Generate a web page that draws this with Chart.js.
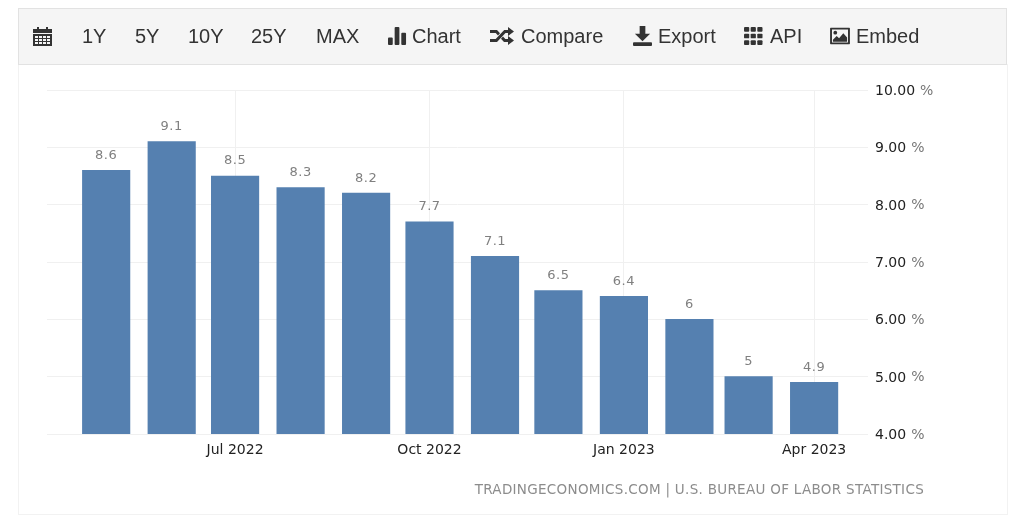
<!DOCTYPE html>
<html>
<head>
<meta charset="utf-8">
<title>United States Inflation Rate</title>
<script src="https://cdn.jsdelivr.net/npm/chart.js@4"></script>
<style>
  html, body { margin: 0; padding: 0; background: #fff; overflow: hidden; }
  #page { position: relative; width: 1024px; height: 522px; }
  #panel { position: absolute; left: 18px; top: 64px; width: 988px; height: 450px; border: 1px solid #f2f2f2; border-top: 0; }
  #toolbar { position: absolute; left: 18px; top: 8px; width: 987px; height: 55px; background: #f5f5f5; border: 1px solid #e2e2e2; }
  #chartBox { position: absolute; left: 0; top: 0; width: 1024px; height: 522px; }
  .btn { position: absolute; top: 36px; transform: translateY(-50%); font: 20px "Liberation Sans", Arial, sans-serif; color: #333; white-space: nowrap; line-height: 24px; }
  .ico { position: absolute; top: 36px; transform: translateY(-50%); fill: #333; display: block; }
</style>
</head>
<body>
<div id="page">
  <div id="panel"></div>
  <div id="toolbar"></div>
  <div id="chartBox"><canvas id="inflationChart" width="1024" height="522"></canvas></div>

  <svg class="ico" style="left:33px" width="19" height="20" viewBox="0 0 19 20"><path d="M0 3h4V1h2v2h7V1h2v2h4v4H0z"/><path fill-rule="evenodd" d="M0 8h19v12H0zM2 10v2h3v-2zm4 0v2h3v-2zm4 0v2h3v-2zm4 0v2h3v-2zM2 13v2h3v-2zm4 0v2h3v-2zm4 0v2h3v-2zm4 0v2h3v-2zM2 16v2h3v-2zm4 0v2h3v-2zm4 0v2h3v-2zm4 0v2h3v-2z"/></svg>
  <span class="btn" style="left:82px">1Y</span>
  <span class="btn" style="left:135px">5Y</span>
  <span class="btn" style="left:188px">10Y</span>
  <span class="btn" style="left:251px">25Y</span>
  <span class="btn" style="left:316px">MAX</span>

  <svg class="ico" style="left:388px" width="19" height="19" viewBox="0 0 20 19"><rect x="0" y="11" width="5" height="8" rx="1"/><rect x="7" y="0" width="5" height="19" rx="1"/><rect x="14" y="6" width="5" height="13" rx="1"/></svg>
  <span class="btn" style="left:412px">Chart</span>

  <svg class="ico" style="left:490px" width="24" height="18" viewBox="0 0 24 18"><path d="M18 0l6 4.500L18 9V6h-2.500L7 15H0v-3h5.700L14.200 3H18z"/><path d="M0 3h7l3 3.200-2 2.200L5.700 6H0zM18 9l6 4.500L18 18v-3h-4l-3-3.200 2-2.200 2.300 2.400H18z"/></svg>
  <span class="btn" style="left:521px">Compare</span>

  <svg class="ico" style="left:633px" width="19" height="20" viewBox="0 0 20 21"><path d="M7 0h6v8h5l-8 8-8-8h5z"/><rect x="0" y="17" width="20" height="4" rx="1"/></svg>
  <span class="btn" style="left:658px">Export</span>

  <svg class="ico" style="left:744px" width="19" height="18" viewBox="0 0 20 19"><rect x="0" y="0" width="5.500" height="5" rx="1"/><rect x="7" y="0" width="5.500" height="5" rx="1"/><rect x="14" y="0" width="5.500" height="5" rx="1"/><rect x="0" y="7" width="5.500" height="5" rx="1"/><rect x="7" y="7" width="5.500" height="5" rx="1"/><rect x="14" y="7" width="5.500" height="5" rx="1"/><rect x="0" y="14" width="5.500" height="5" rx="1"/><rect x="7" y="14" width="5.500" height="5" rx="1"/><rect x="14" y="14" width="5.500" height="5" rx="1"/></svg>
  <span class="btn" style="left:770px">API</span>

  <svg class="ico" style="left:830px" width="20" height="17" viewBox="0 0 21 18"><path fill-rule="evenodd" d="M1 0h19a1 1 0 0 1 1 1v16a1 1 0 0 1-1 1H1a1 1 0 0 1-1-1V1a1 1 0 0 1 1-1zm1 2v14h17V2z"/><circle cx="5.500" cy="5.500" r="2"/><path d="M3 15v-2l4-4 2.500 2.500L14 6l4 4.500V15z"/></svg>
  <span class="btn" style="left:856px">Embed</span>
</div>

<script>
const months = ['2022-05-01', '2022-06-01', '2022-07-01', '2022-08-01', '2022-09-01', '2022-10-01',
  '2022-11-01', '2022-12-01', '2023-01-01', '2023-02-01', '2023-03-01', '2023-04-01'];
const inflation = [8.6, 9.1, 8.5, 8.3, 8.2, 7.7, 7.1, 6.5, 6.4, 6, 5, 4.9];
const valueLabels = ['8.6', '9.1', '8.5', '8.3', '8.2', '7.7', '7.1', '6.5', '6.4', '6', '5', '4.9'];
const tickDates = ['2022-07-01', '2022-10-01', '2023-01-01', '2023-04-01'];
const tickLabels = ['Jul 2022', 'Oct 2022', 'Jan 2023', 'Apr 2023'];
const yTicks = [4, 5, 6, 7, 8, 9, 10];
const axisStart = '2022-04-03';
const axisEnd = '2023-04-26T12:00:00Z';
const source = 'TRADINGECONOMICS.COM | U.S. BUREAU OF LABOR STATISTICS';

const chartFont = '"DejaVu Sans", sans-serif';
const day = s => Date.parse(s);

// value labels over the bars, the grey % after the y ticks, and the source line
const extras = {
  id: 'extras',
  afterDatasetsDraw(chart) {
    const ctx = chart.ctx;
    const meta = chart.getDatasetMeta(0);
    ctx.save();
    ctx.textBaseline = 'middle';
    ctx.font = '13px ' + chartFont;
    ctx.letterSpacing = '0.5px';
    ctx.fillStyle = '#808080';
    ctx.textAlign = 'center';
    meta.data.forEach((bar, i) => {
      ctx.fillText(valueLabels[i], bar.x, bar.y - 15);
    });

    // the % follows the number, so it sits further right on the 10.00 tick
    const yScale = chart.scales.y;
    ctx.textAlign = 'left';
    ctx.letterSpacing = '0px';
    yScale.ticks.forEach(t => {
      ctx.font = '14px ' + chartFont;
      const numWidth = ctx.measureText(t.value.toFixed(2)).width;
      ctx.font = '14px "Liberation Sans Narrow", ' + chartFont;
      ctx.fillStyle = '#777';
      ctx.fillText('%', 875 + numWidth + 5, yScale.getPixelForValue(t.value) + 1);
    });

    ctx.font = '13.500px ' + chartFont;
    ctx.letterSpacing = '0.3px';
    ctx.textAlign = 'right';
    ctx.fillStyle = '#8c8c8c';
    ctx.fillText(source, 924, 490);
    ctx.restore();
  }
};

new Chart(document.getElementById('inflationChart').getContext('2d'), {
  type: 'bar',
  data: {
    datasets: [{
      label: 'Inflation rate',
      data: months.map((m, i) => ({ x: day(m), y: inflation[i] })),
      backgroundColor: '#5580b0',
      barThickness: 47.5
    }]
  },
  options: {
    responsive: false,
    animation: false,
    layout: { padding: { left: 47, top: 90, right: 0, bottom: 0 } },
    plugins: { legend: { display: false }, tooltip: { enabled: false } },
    scales: {
      x: {
        type: 'linear',
        offset: false,
        min: day(axisStart),
        max: day(axisEnd),
        afterBuildTicks: scale => { scale.ticks = tickDates.map(d => ({ value: day(d) })); },
        afterFit: scale => { scale.height = 88; },
        grid: { color: '#f0f0f0', drawTicks: false, offset: false },
        border: { display: false },
        ticks: {
          autoSkip: false,
          maxRotation: 0,
          padding: 8,
          color: '#222',
          font: { family: chartFont, size: 14 },
          callback: value => tickLabels[tickDates.findIndex(d => day(d) === value)]
        }
      },
      y: {
        position: 'right',
        min: 4,
        max: 10,
        afterBuildTicks: scale => { scale.ticks = yTicks.map(v => ({ value: v })); },
        afterFit: scale => { scale.width = 156; },
        grid: { color: '#f0f0f0', drawTicks: false },
        border: { display: false },
        ticks: {
          padding: 7,
          color: '#222',
          // empty first line with a tiny line height nudges the text down onto the grid line
          font: { family: chartFont, size: 14, lineHeight: 0.2 },
          callback: value => ['', value.toFixed(2)]
        }
      }
    }
  },
  plugins: [extras]
});
</script>
</body>
</html>
